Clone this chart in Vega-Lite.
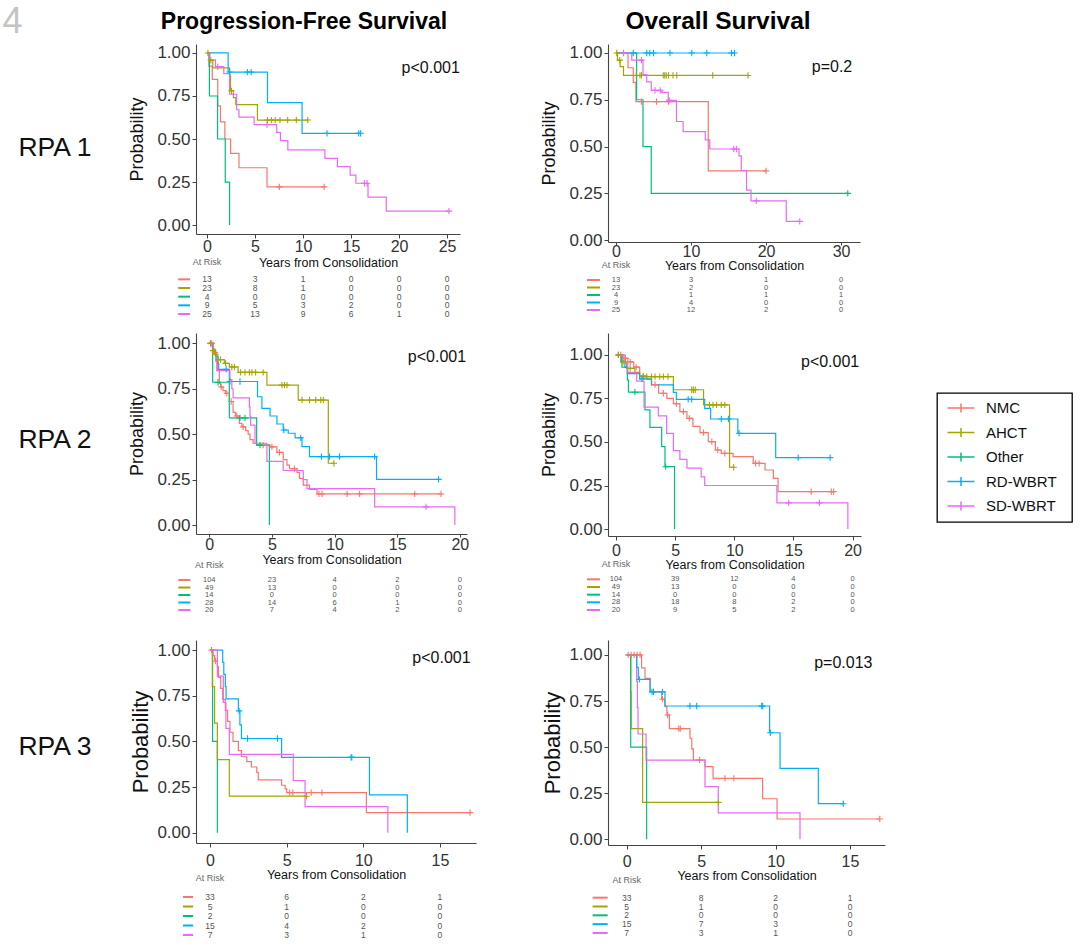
{
"$schema": "https://vega.github.io/schema/vega-lite/v6.json",
"background": "white",
"padding": 0,
"autosize": {"type": "pad"},
"bounds": "flush",
"align": "each",
"columns": 5,
"spacing": 0,
"datasets": {
"km": [
{"p":"PFS1","g":"NMC","t":0,"s":1},{"p":"PFS1","g":"NMC","t":0.2,"s":0.923},{"p":"PFS1","g":"NMC","t":0.55,"s":0.846},{"p":"PFS1","g":"NMC","t":1.12,"s":0.692},{"p":"PFS1","g":"NMC","t":1.4,"s":0.6},{"p":"PFS1","g":"NMC","t":1.86,"s":0.5},{"p":"PFS1","g":"NMC","t":2.46,"s":0.417},{"p":"PFS1","g":"NMC","t":3.33,"s":0.333},{"p":"PFS1","g":"NMC","t":6.25,"s":0.222},{"p":"PFS1","g":"NMC","t":7.53,"s":0.222,"c":1},{"p":"PFS1","g":"NMC","t":12.2,"s":0.222,"c":1},
{"p":"PFS1","g":"AHCT","t":0,"s":1},{"p":"PFS1","g":"AHCT","t":0.1,"s":1,"c":1},{"p":"PFS1","g":"AHCT","t":0.25,"s":0.957},{"p":"PFS1","g":"AHCT","t":0.4,"s":0.957,"c":1},{"p":"PFS1","g":"AHCT","t":0.6,"s":0.913},{"p":"PFS1","g":"AHCT","t":2.35,"s":0.87},{"p":"PFS1","g":"AHCT","t":2.45,"s":0.78},{"p":"PFS1","g":"AHCT","t":2.55,"s":0.78,"c":1},{"p":"PFS1","g":"AHCT","t":2.75,"s":0.74},{"p":"PFS1","g":"AHCT","t":3.0,"s":0.7},{"p":"PFS1","g":"AHCT","t":5.25,"s":0.61},{"p":"PFS1","g":"AHCT","t":6.3,"s":0.61,"c":1},{"p":"PFS1","g":"AHCT","t":6.7,"s":0.61,"c":1},{"p":"PFS1","g":"AHCT","t":7.1,"s":0.61,"c":1},{"p":"PFS1","g":"AHCT","t":7.6,"s":0.61,"c":1},{"p":"PFS1","g":"AHCT","t":8.4,"s":0.61,"c":1},{"p":"PFS1","g":"AHCT","t":9.3,"s":0.61,"c":1},{"p":"PFS1","g":"AHCT","t":10.5,"s":0.61,"c":1},
{"p":"PFS1","g":"Other","t":0,"s":1},{"p":"PFS1","g":"Other","t":0.25,"s":0.75},{"p":"PFS1","g":"Other","t":1.1,"s":0.5},{"p":"PFS1","g":"Other","t":1.9,"s":0.25},{"p":"PFS1","g":"Other","t":2.35,"s":0},
{"p":"PFS1","g":"RD-WBRT","t":0,"s":1},{"p":"PFS1","g":"RD-WBRT","t":2.2,"s":0.889},{"p":"PFS1","g":"RD-WBRT","t":2.35,"s":0.889,"c":1},{"p":"PFS1","g":"RD-WBRT","t":4.2,"s":0.889,"c":1},{"p":"PFS1","g":"RD-WBRT","t":4.6,"s":0.889,"c":1},{"p":"PFS1","g":"RD-WBRT","t":6.3,"s":0.711},{"p":"PFS1","g":"RD-WBRT","t":9.9,"s":0.533},{"p":"PFS1","g":"RD-WBRT","t":12.5,"s":0.533,"c":1},{"p":"PFS1","g":"RD-WBRT","t":15.8,"s":0.533,"c":1},{"p":"PFS1","g":"RD-WBRT","t":16.0,"s":0.533,"c":1},
{"p":"PFS1","g":"SD-WBRT","t":0,"s":1},{"p":"PFS1","g":"SD-WBRT","t":0.3,"s":0.96},{"p":"PFS1","g":"SD-WBRT","t":0.88,"s":0.92},{"p":"PFS1","g":"SD-WBRT","t":1.12,"s":0.92,"c":1},{"p":"PFS1","g":"SD-WBRT","t":1.75,"s":0.88},{"p":"PFS1","g":"SD-WBRT","t":2.35,"s":0.76},{"p":"PFS1","g":"SD-WBRT","t":3.09,"s":0.67},{"p":"PFS1","g":"SD-WBRT","t":3.33,"s":0.627},{"p":"PFS1","g":"SD-WBRT","t":4.91,"s":0.583},{"p":"PFS1","g":"SD-WBRT","t":6.25,"s":0.583,"c":1},{"p":"PFS1","g":"SD-WBRT","t":7.26,"s":0.538},{"p":"PFS1","g":"SD-WBRT","t":7.65,"s":0.49},{"p":"PFS1","g":"SD-WBRT","t":8.42,"s":0.437},{"p":"PFS1","g":"SD-WBRT","t":12.28,"s":0.388},{"p":"PFS1","g":"SD-WBRT","t":13.58,"s":0.34},{"p":"PFS1","g":"SD-WBRT","t":14.91,"s":0.29},{"p":"PFS1","g":"SD-WBRT","t":15.51,"s":0.243},{"p":"PFS1","g":"SD-WBRT","t":16.39,"s":0.243,"c":1},{"p":"PFS1","g":"SD-WBRT","t":16.67,"s":0.243,"c":1},{"p":"PFS1","g":"SD-WBRT","t":16.77,"s":0.162},{"p":"PFS1","g":"SD-WBRT","t":18.67,"s":0.081},{"p":"PFS1","g":"SD-WBRT","t":25.2,"s":0.081,"c":1},

{"p":"OS1","g":"NMC","t":0,"s":1},{"p":"OS1","g":"NMC","t":1.6,"s":0.921},{"p":"OS1","g":"NMC","t":2.3,"s":0.843},{"p":"OS1","g":"NMC","t":2.65,"s":0.74},{"p":"OS1","g":"NMC","t":3.4,"s":0.74,"c":1},{"p":"OS1","g":"NMC","t":5.4,"s":0.74,"c":1},{"p":"OS1","g":"NMC","t":7.0,"s":0.74,"c":1},{"p":"OS1","g":"NMC","t":12.3,"s":0.37},{"p":"OS1","g":"NMC","t":20.0,"s":0.37,"c":1},
{"p":"OS1","g":"AHCT","t":0,"s":1},{"p":"OS1","g":"AHCT","t":0.1,"s":1,"c":1},{"p":"OS1","g":"AHCT","t":0.2,"s":0.962},{"p":"OS1","g":"AHCT","t":0.5,"s":0.962,"c":1},{"p":"OS1","g":"AHCT","t":0.55,"s":0.927},{"p":"OS1","g":"AHCT","t":1.0,"s":0.88},{"p":"OS1","g":"AHCT","t":2.7,"s":0.88,"c":1},{"p":"OS1","g":"AHCT","t":3.2,"s":0.88,"c":1},{"p":"OS1","g":"AHCT","t":3.4,"s":0.88,"c":1},{"p":"OS1","g":"AHCT","t":6.3,"s":0.88,"c":1},{"p":"OS1","g":"AHCT","t":6.5,"s":0.88,"c":1},{"p":"OS1","g":"AHCT","t":6.7,"s":0.88,"c":1},{"p":"OS1","g":"AHCT","t":7.0,"s":0.88,"c":1},{"p":"OS1","g":"AHCT","t":7.6,"s":0.88,"c":1},{"p":"OS1","g":"AHCT","t":8.1,"s":0.88,"c":1},{"p":"OS1","g":"AHCT","t":12.9,"s":0.88,"c":1},{"p":"OS1","g":"AHCT","t":17.6,"s":0.88,"c":1},
{"p":"OS1","g":"Other","t":0,"s":1},{"p":"OS1","g":"Other","t":2.75,"s":0.75},{"p":"OS1","g":"Other","t":3.6,"s":0.5},{"p":"OS1","g":"Other","t":4.7,"s":0.25},{"p":"OS1","g":"Other","t":30.9,"s":0.25,"c":1},
{"p":"OS1","g":"RD-WBRT","t":0,"s":1},{"p":"OS1","g":"RD-WBRT","t":2.3,"s":1,"c":1},{"p":"OS1","g":"RD-WBRT","t":4.1,"s":1,"c":1},{"p":"OS1","g":"RD-WBRT","t":4.5,"s":1,"c":1},{"p":"OS1","g":"RD-WBRT","t":5.0,"s":1,"c":1},{"p":"OS1","g":"RD-WBRT","t":7.2,"s":1,"c":1},{"p":"OS1","g":"RD-WBRT","t":10.1,"s":1,"c":1},{"p":"OS1","g":"RD-WBRT","t":12.1,"s":1,"c":1},{"p":"OS1","g":"RD-WBRT","t":15.4,"s":1,"c":1},{"p":"OS1","g":"RD-WBRT","t":15.8,"s":1,"c":1},
{"p":"OS1","g":"SD-WBRT","t":0,"s":1},{"p":"OS1","g":"SD-WBRT","t":1.0,"s":1,"c":1},{"p":"OS1","g":"SD-WBRT","t":2.1,"s":0.962},{"p":"OS1","g":"SD-WBRT","t":3.4,"s":0.962,"c":1},{"p":"OS1","g":"SD-WBRT","t":3.6,"s":0.885},{"p":"OS1","g":"SD-WBRT","t":4.1,"s":0.846},{"p":"OS1","g":"SD-WBRT","t":4.7,"s":0.8},{"p":"OS1","g":"SD-WBRT","t":5.2,"s":0.8,"c":1},{"p":"OS1","g":"SD-WBRT","t":5.9,"s":0.8,"c":1},{"p":"OS1","g":"SD-WBRT","t":6.1,"s":0.79},{"p":"OS1","g":"SD-WBRT","t":6.96,"s":0.747},{"p":"OS1","g":"SD-WBRT","t":7.1,"s":0.747,"c":1},{"p":"OS1","g":"SD-WBRT","t":8.06,"s":0.634},{"p":"OS1","g":"SD-WBRT","t":8.95,"s":0.58},{"p":"OS1","g":"SD-WBRT","t":11.9,"s":0.536},{"p":"OS1","g":"SD-WBRT","t":12.5,"s":0.487},{"p":"OS1","g":"SD-WBRT","t":15.7,"s":0.487,"c":1},{"p":"OS1","g":"SD-WBRT","t":16.05,"s":0.487,"c":1},{"p":"OS1","g":"SD-WBRT","t":16.4,"s":0.45},{"p":"OS1","g":"SD-WBRT","t":16.7,"s":0.372},{"p":"OS1","g":"SD-WBRT","t":17.4,"s":0.267},{"p":"OS1","g":"SD-WBRT","t":18.0,"s":0.21},{"p":"OS1","g":"SD-WBRT","t":18.7,"s":0.21,"c":1},{"p":"OS1","g":"SD-WBRT","t":22.7,"s":0.1},{"p":"OS1","g":"SD-WBRT","t":24.5,"s":0.1,"c":1},

{"p":"PFS2","g":"NMC","t":0,"s":1},{"p":"PFS2","g":"NMC","t":0.1,"s":1,"c":1},{"p":"PFS2","g":"NMC","t":0.2,"s":1,"c":1},{"p":"PFS2","g":"NMC","t":0.3,"s":0.97},{"p":"PFS2","g":"NMC","t":0.4,"s":0.95},{"p":"PFS2","g":"NMC","t":0.45,"s":0.95,"c":1},{"p":"PFS2","g":"NMC","t":0.55,"s":0.9},{"p":"PFS2","g":"NMC","t":0.65,"s":0.85},{"p":"PFS2","g":"NMC","t":0.8,"s":0.78},{"p":"PFS2","g":"NMC","t":0.9,"s":0.76},{"p":"PFS2","g":"NMC","t":0.95,"s":0.76,"c":1},{"p":"PFS2","g":"NMC","t":1.1,"s":0.74},{"p":"PFS2","g":"NMC","t":1.3,"s":0.725},{"p":"PFS2","g":"NMC","t":1.4,"s":0.725,"c":1},{"p":"PFS2","g":"NMC","t":1.6,"s":0.68},{"p":"PFS2","g":"NMC","t":1.75,"s":0.68,"c":1},{"p":"PFS2","g":"NMC","t":1.9,"s":0.62},{"p":"PFS2","g":"NMC","t":2.1,"s":0.6},{"p":"PFS2","g":"NMC","t":2.2,"s":0.6,"c":1},{"p":"PFS2","g":"NMC","t":2.4,"s":0.56},{"p":"PFS2","g":"NMC","t":2.6,"s":0.54},{"p":"PFS2","g":"NMC","t":2.7,"s":0.54,"c":1},{"p":"PFS2","g":"NMC","t":2.9,"s":0.52},{"p":"PFS2","g":"NMC","t":3.1,"s":0.5},{"p":"PFS2","g":"NMC","t":3.25,"s":0.47},{"p":"PFS2","g":"NMC","t":3.5,"s":0.45},{"p":"PFS2","g":"NMC","t":3.8,"s":0.44},{"p":"PFS2","g":"NMC","t":4.3,"s":0.44,"c":1},{"p":"PFS2","g":"NMC","t":4.85,"s":0.43},{"p":"PFS2","g":"NMC","t":5.0,"s":0.43,"c":1},{"p":"PFS2","g":"NMC","t":5.4,"s":0.4},{"p":"PFS2","g":"NMC","t":5.6,"s":0.4,"c":1},{"p":"PFS2","g":"NMC","t":5.9,"s":0.36},{"p":"PFS2","g":"NMC","t":6.2,"s":0.33},{"p":"PFS2","g":"NMC","t":6.4,"s":0.31},{"p":"PFS2","g":"NMC","t":6.8,"s":0.31,"c":1},{"p":"PFS2","g":"NMC","t":7.0,"s":0.29},{"p":"PFS2","g":"NMC","t":7.2,"s":0.257},{"p":"PFS2","g":"NMC","t":7.5,"s":0.22},{"p":"PFS2","g":"NMC","t":8.0,"s":0.196},{"p":"PFS2","g":"NMC","t":8.6,"s":0.171},{"p":"PFS2","g":"NMC","t":8.75,"s":0.171,"c":1},{"p":"PFS2","g":"NMC","t":9.0,"s":0.171,"c":1},{"p":"PFS2","g":"NMC","t":11.0,"s":0.171,"c":1},{"p":"PFS2","g":"NMC","t":12.0,"s":0.171,"c":1},{"p":"PFS2","g":"NMC","t":16.4,"s":0.171,"c":1},{"p":"PFS2","g":"NMC","t":18.5,"s":0.171,"c":1},
{"p":"PFS2","g":"AHCT","t":0,"s":1},{"p":"PFS2","g":"AHCT","t":0.1,"s":1,"c":1},{"p":"PFS2","g":"AHCT","t":0.25,"s":0.96},{"p":"PFS2","g":"AHCT","t":0.3,"s":0.96,"c":1},{"p":"PFS2","g":"AHCT","t":0.4,"s":0.94},{"p":"PFS2","g":"AHCT","t":0.5,"s":0.94,"c":1},{"p":"PFS2","g":"AHCT","t":0.6,"s":0.91},{"p":"PFS2","g":"AHCT","t":0.7,"s":0.91,"c":1},{"p":"PFS2","g":"AHCT","t":0.9,"s":0.91,"c":1},{"p":"PFS2","g":"AHCT","t":1.2,"s":0.89},{"p":"PFS2","g":"AHCT","t":1.3,"s":0.89,"c":1},{"p":"PFS2","g":"AHCT","t":1.6,"s":0.87},{"p":"PFS2","g":"AHCT","t":1.8,"s":0.87,"c":1},{"p":"PFS2","g":"AHCT","t":2.0,"s":0.87,"c":1},{"p":"PFS2","g":"AHCT","t":2.3,"s":0.84},{"p":"PFS2","g":"AHCT","t":2.5,"s":0.84,"c":1},{"p":"PFS2","g":"AHCT","t":2.85,"s":0.84,"c":1},{"p":"PFS2","g":"AHCT","t":3.2,"s":0.84,"c":1},{"p":"PFS2","g":"AHCT","t":3.4,"s":0.84,"c":1},{"p":"PFS2","g":"AHCT","t":3.7,"s":0.84,"c":1},{"p":"PFS2","g":"AHCT","t":4.3,"s":0.84,"c":1},{"p":"PFS2","g":"AHCT","t":4.6,"s":0.77},{"p":"PFS2","g":"AHCT","t":5.8,"s":0.77,"c":1},{"p":"PFS2","g":"AHCT","t":6.0,"s":0.77,"c":1},{"p":"PFS2","g":"AHCT","t":6.2,"s":0.77,"c":1},{"p":"PFS2","g":"AHCT","t":7.1,"s":0.688},{"p":"PFS2","g":"AHCT","t":7.4,"s":0.688,"c":1},{"p":"PFS2","g":"AHCT","t":8.0,"s":0.688,"c":1},{"p":"PFS2","g":"AHCT","t":8.5,"s":0.688,"c":1},{"p":"PFS2","g":"AHCT","t":8.9,"s":0.688,"c":1},{"p":"PFS2","g":"AHCT","t":9.1,"s":0.688,"c":1},{"p":"PFS2","g":"AHCT","t":9.5,"s":0.34},{"p":"PFS2","g":"AHCT","t":9.95,"s":0.34,"c":1},
{"p":"PFS2","g":"Other","t":0,"s":1},{"p":"PFS2","g":"Other","t":0.27,"s":0.786},{"p":"PFS2","g":"Other","t":0.7,"s":0.786,"c":1},{"p":"PFS2","g":"Other","t":1.6,"s":0.59},{"p":"PFS2","g":"Other","t":2.45,"s":0.59,"c":1},{"p":"PFS2","g":"Other","t":2.85,"s":0.59,"c":1},{"p":"PFS2","g":"Other","t":3.78,"s":0.44},{"p":"PFS2","g":"Other","t":4.05,"s":0.44,"c":1},{"p":"PFS2","g":"Other","t":4.8,"s":0},
{"p":"PFS2","g":"RD-WBRT","t":0,"s":1},{"p":"PFS2","g":"RD-WBRT","t":0.3,"s":0.964},{"p":"PFS2","g":"RD-WBRT","t":0.5,"s":0.93},{"p":"PFS2","g":"RD-WBRT","t":0.7,"s":0.89},{"p":"PFS2","g":"RD-WBRT","t":0.75,"s":0.857},{"p":"PFS2","g":"RD-WBRT","t":1.35,"s":0.857,"c":1},{"p":"PFS2","g":"RD-WBRT","t":1.6,"s":0.79},{"p":"PFS2","g":"RD-WBRT","t":1.65,"s":0.79,"c":1},{"p":"PFS2","g":"RD-WBRT","t":2.45,"s":0.79,"c":1},{"p":"PFS2","g":"RD-WBRT","t":3.85,"s":0.706},{"p":"PFS2","g":"RD-WBRT","t":4.2,"s":0.642},{"p":"PFS2","g":"RD-WBRT","t":4.85,"s":0.6},{"p":"PFS2","g":"RD-WBRT","t":5.4,"s":0.556},{"p":"PFS2","g":"RD-WBRT","t":5.9,"s":0.523},{"p":"PFS2","g":"RD-WBRT","t":5.95,"s":0.523,"c":1},{"p":"PFS2","g":"RD-WBRT","t":6.3,"s":0.505},{"p":"PFS2","g":"RD-WBRT","t":6.85,"s":0.48},{"p":"PFS2","g":"RD-WBRT","t":7.3,"s":0.48,"c":1},{"p":"PFS2","g":"RD-WBRT","t":7.4,"s":0.431},{"p":"PFS2","g":"RD-WBRT","t":8.0,"s":0.376},{"p":"PFS2","g":"RD-WBRT","t":8.95,"s":0.376,"c":1},{"p":"PFS2","g":"RD-WBRT","t":9.6,"s":0.376,"c":1},{"p":"PFS2","g":"RD-WBRT","t":10.4,"s":0.376,"c":1},{"p":"PFS2","g":"RD-WBRT","t":13.2,"s":0.376,"c":1},{"p":"PFS2","g":"RD-WBRT","t":13.35,"s":0.251},{"p":"PFS2","g":"RD-WBRT","t":18.3,"s":0.251,"c":1},
{"p":"PFS2","g":"SD-WBRT","t":0,"s":1},{"p":"PFS2","g":"SD-WBRT","t":0.32,"s":0.95},{"p":"PFS2","g":"SD-WBRT","t":0.53,"s":0.9},{"p":"PFS2","g":"SD-WBRT","t":0.6,"s":0.85},{"p":"PFS2","g":"SD-WBRT","t":1.65,"s":0.8},{"p":"PFS2","g":"SD-WBRT","t":1.8,"s":0.75},{"p":"PFS2","g":"SD-WBRT","t":1.9,"s":0.7},{"p":"PFS2","g":"SD-WBRT","t":3.2,"s":0.65},{"p":"PFS2","g":"SD-WBRT","t":3.25,"s":0.6},{"p":"PFS2","g":"SD-WBRT","t":3.3,"s":0.55},{"p":"PFS2","g":"SD-WBRT","t":3.65,"s":0.45},{"p":"PFS2","g":"SD-WBRT","t":4.6,"s":0.35},{"p":"PFS2","g":"SD-WBRT","t":5.9,"s":0.3},{"p":"PFS2","g":"SD-WBRT","t":7.5,"s":0.25},{"p":"PFS2","g":"SD-WBRT","t":7.8,"s":0.2},{"p":"PFS2","g":"SD-WBRT","t":13.2,"s":0.1},{"p":"PFS2","g":"SD-WBRT","t":17.3,"s":0.1,"c":1},{"p":"PFS2","g":"SD-WBRT","t":19.6,"s":0},

{"p":"OS2","g":"NMC","t":0,"s":1},{"p":"OS2","g":"NMC","t":0.2,"s":1,"c":1},{"p":"OS2","g":"NMC","t":0.4,"s":1,"c":1},{"p":"OS2","g":"NMC","t":0.6,"s":0.98},{"p":"OS2","g":"NMC","t":0.8,"s":0.98,"c":1},{"p":"OS2","g":"NMC","t":1.0,"s":0.96},{"p":"OS2","g":"NMC","t":1.2,"s":0.96,"c":1},{"p":"OS2","g":"NMC","t":1.5,"s":0.93},{"p":"OS2","g":"NMC","t":1.7,"s":0.93,"c":1},{"p":"OS2","g":"NMC","t":2.0,"s":0.88},{"p":"OS2","g":"NMC","t":2.3,"s":0.88,"c":1},{"p":"OS2","g":"NMC","t":2.6,"s":0.86},{"p":"OS2","g":"NMC","t":3.0,"s":0.83},{"p":"OS2","g":"NMC","t":3.3,"s":0.83,"c":1},{"p":"OS2","g":"NMC","t":3.6,"s":0.78},{"p":"OS2","g":"NMC","t":4.0,"s":0.78,"c":1},{"p":"OS2","g":"NMC","t":4.3,"s":0.75},{"p":"OS2","g":"NMC","t":4.85,"s":0.72},{"p":"OS2","g":"NMC","t":5.1,"s":0.72,"c":1},{"p":"OS2","g":"NMC","t":5.4,"s":0.674},{"p":"OS2","g":"NMC","t":5.7,"s":0.674,"c":1},{"p":"OS2","g":"NMC","t":6.0,"s":0.636},{"p":"OS2","g":"NMC","t":6.2,"s":0.636,"c":1},{"p":"OS2","g":"NMC","t":6.5,"s":0.59},{"p":"OS2","g":"NMC","t":7.1,"s":0.554},{"p":"OS2","g":"NMC","t":7.4,"s":0.554,"c":1},{"p":"OS2","g":"NMC","t":7.8,"s":0.502},{"p":"OS2","g":"NMC","t":8.1,"s":0.502,"c":1},{"p":"OS2","g":"NMC","t":8.4,"s":0.454},{"p":"OS2","g":"NMC","t":8.6,"s":0.454,"c":1},{"p":"OS2","g":"NMC","t":8.9,"s":0.435},{"p":"OS2","g":"NMC","t":9.2,"s":0.435,"c":1},{"p":"OS2","g":"NMC","t":9.9,"s":0.416},{"p":"OS2","g":"NMC","t":11.6,"s":0.377},{"p":"OS2","g":"NMC","t":11.8,"s":0.377,"c":1},{"p":"OS2","g":"NMC","t":12.1,"s":0.377,"c":1},{"p":"OS2","g":"NMC","t":12.6,"s":0.339},{"p":"OS2","g":"NMC","t":13.3,"s":0.291},{"p":"OS2","g":"NMC","t":13.7,"s":0.215},{"p":"OS2","g":"NMC","t":16.5,"s":0.215,"c":1},{"p":"OS2","g":"NMC","t":18.2,"s":0.215,"c":1},{"p":"OS2","g":"NMC","t":18.4,"s":0.215,"c":1},
{"p":"OS2","g":"AHCT","t":0,"s":1},{"p":"OS2","g":"AHCT","t":0.2,"s":1,"c":1},{"p":"OS2","g":"AHCT","t":0.4,"s":0.96},{"p":"OS2","g":"AHCT","t":0.6,"s":0.96,"c":1},{"p":"OS2","g":"AHCT","t":0.9,"s":0.923},{"p":"OS2","g":"AHCT","t":1.2,"s":0.923,"c":1},{"p":"OS2","g":"AHCT","t":1.6,"s":0.9},{"p":"OS2","g":"AHCT","t":2.0,"s":0.875},{"p":"OS2","g":"AHCT","t":2.3,"s":0.875,"c":1},{"p":"OS2","g":"AHCT","t":2.6,"s":0.875,"c":1},{"p":"OS2","g":"AHCT","t":3.0,"s":0.875,"c":1},{"p":"OS2","g":"AHCT","t":3.3,"s":0.875,"c":1},{"p":"OS2","g":"AHCT","t":3.7,"s":0.875,"c":1},{"p":"OS2","g":"AHCT","t":4.0,"s":0.875,"c":1},{"p":"OS2","g":"AHCT","t":4.4,"s":0.875,"c":1},{"p":"OS2","g":"AHCT","t":4.85,"s":0.8},{"p":"OS2","g":"AHCT","t":6.4,"s":0.8,"c":1},{"p":"OS2","g":"AHCT","t":6.55,"s":0.8,"c":1},{"p":"OS2","g":"AHCT","t":6.7,"s":0.8,"c":1},{"p":"OS2","g":"AHCT","t":7.4,"s":0.713},{"p":"OS2","g":"AHCT","t":7.9,"s":0.713,"c":1},{"p":"OS2","g":"AHCT","t":8.2,"s":0.713,"c":1},{"p":"OS2","g":"AHCT","t":8.5,"s":0.713,"c":1},{"p":"OS2","g":"AHCT","t":8.9,"s":0.713,"c":1},{"p":"OS2","g":"AHCT","t":9.2,"s":0.713,"c":1},{"p":"OS2","g":"AHCT","t":9.6,"s":0.355},{"p":"OS2","g":"AHCT","t":9.95,"s":0.355,"c":1},
{"p":"OS2","g":"Other","t":0,"s":1},{"p":"OS2","g":"Other","t":0.5,"s":0.93},{"p":"OS2","g":"Other","t":0.96,"s":0.857},{"p":"OS2","g":"Other","t":1.05,"s":0.786},{"p":"OS2","g":"Other","t":1.6,"s":0.786,"c":1},{"p":"OS2","g":"Other","t":2.45,"s":0.684},{"p":"OS2","g":"Other","t":2.87,"s":0.584},{"p":"OS2","g":"Other","t":3.86,"s":0.473},{"p":"OS2","g":"Other","t":4.14,"s":0.358},{"p":"OS2","g":"Other","t":4.2,"s":0.358,"c":1},{"p":"OS2","g":"Other","t":4.95,"s":0},
{"p":"OS2","g":"RD-WBRT","t":0,"s":1},{"p":"OS2","g":"RD-WBRT","t":0.5,"s":0.964},{"p":"OS2","g":"RD-WBRT","t":0.75,"s":0.929},{"p":"OS2","g":"RD-WBRT","t":0.95,"s":0.893},{"p":"OS2","g":"RD-WBRT","t":2.0,"s":0.862},{"p":"OS2","g":"RD-WBRT","t":2.2,"s":0.862,"c":1},{"p":"OS2","g":"RD-WBRT","t":3.0,"s":0.828},{"p":"OS2","g":"RD-WBRT","t":4.85,"s":0.785},{"p":"OS2","g":"RD-WBRT","t":5.1,"s":0.745},{"p":"OS2","g":"RD-WBRT","t":6.1,"s":0.745,"c":1},{"p":"OS2","g":"RD-WBRT","t":6.4,"s":0.745,"c":1},{"p":"OS2","g":"RD-WBRT","t":7.5,"s":0.693},{"p":"OS2","g":"RD-WBRT","t":8.0,"s":0.632},{"p":"OS2","g":"RD-WBRT","t":8.9,"s":0.632,"c":1},{"p":"OS2","g":"RD-WBRT","t":9.5,"s":0.632,"c":1},{"p":"OS2","g":"RD-WBRT","t":10.3,"s":0.55},{"p":"OS2","g":"RD-WBRT","t":10.4,"s":0.55,"c":1},{"p":"OS2","g":"RD-WBRT","t":13.5,"s":0.41},{"p":"OS2","g":"RD-WBRT","t":15.4,"s":0.41,"c":1},{"p":"OS2","g":"RD-WBRT","t":18.1,"s":0.41,"c":1},
{"p":"OS2","g":"SD-WBRT","t":0,"s":1},{"p":"OS2","g":"SD-WBRT","t":0.75,"s":0.95},{"p":"OS2","g":"SD-WBRT","t":1.0,"s":0.9},{"p":"OS2","g":"SD-WBRT","t":1.75,"s":0.85},{"p":"OS2","g":"SD-WBRT","t":2.37,"s":0.7},{"p":"OS2","g":"SD-WBRT","t":3.58,"s":0.65},{"p":"OS2","g":"SD-WBRT","t":4.28,"s":0.55},{"p":"OS2","g":"SD-WBRT","t":4.85,"s":0.45},{"p":"OS2","g":"SD-WBRT","t":5.4,"s":0.4},{"p":"OS2","g":"SD-WBRT","t":6.0,"s":0.35},{"p":"OS2","g":"SD-WBRT","t":7.2,"s":0.3},{"p":"OS2","g":"SD-WBRT","t":7.5,"s":0.25},{"p":"OS2","g":"SD-WBRT","t":13.6,"s":0.15},{"p":"OS2","g":"SD-WBRT","t":14.6,"s":0.15,"c":1},{"p":"OS2","g":"SD-WBRT","t":17.2,"s":0.15,"c":1},{"p":"OS2","g":"SD-WBRT","t":19.6,"s":0},

{"p":"PFS3","g":"Other","t":0,"s":1},{"p":"PFS3","g":"Other","t":0.17,"s":0.5},{"p":"PFS3","g":"Other","t":0.48,"s":0},
{"p":"PFS3","g":"AHCT","t":0,"s":1},{"p":"PFS3","g":"AHCT","t":0.15,"s":0.8},{"p":"PFS3","g":"AHCT","t":0.3,"s":0.6},{"p":"PFS3","g":"AHCT","t":0.48,"s":0.4},{"p":"PFS3","g":"AHCT","t":1.26,"s":0.2},{"p":"PFS3","g":"AHCT","t":6.3,"s":0.2,"c":1},
{"p":"PFS3","g":"NMC","t":0,"s":1},{"p":"PFS3","g":"NMC","t":0.1,"s":1,"c":1},{"p":"PFS3","g":"NMC","t":0.2,"s":0.97},{"p":"PFS3","g":"NMC","t":0.3,"s":0.94},{"p":"PFS3","g":"NMC","t":0.35,"s":0.94,"c":1},{"p":"PFS3","g":"NMC","t":0.48,"s":0.91},{"p":"PFS3","g":"NMC","t":0.55,"s":0.85},{"p":"PFS3","g":"NMC","t":0.7,"s":0.79},{"p":"PFS3","g":"NMC","t":0.83,"s":0.73},{"p":"PFS3","g":"NMC","t":1.0,"s":0.67},{"p":"PFS3","g":"NMC","t":1.15,"s":0.61},{"p":"PFS3","g":"NMC","t":1.3,"s":0.55},{"p":"PFS3","g":"NMC","t":1.5,"s":0.5},{"p":"PFS3","g":"NMC","t":1.85,"s":0.45},{"p":"PFS3","g":"NMC","t":2.05,"s":0.416},{"p":"PFS3","g":"NMC","t":2.4,"s":0.389},{"p":"PFS3","g":"NMC","t":2.7,"s":0.36},{"p":"PFS3","g":"NMC","t":3.05,"s":0.33},{"p":"PFS3","g":"NMC","t":3.15,"s":0.29},{"p":"PFS3","g":"NMC","t":4.67,"s":0.26},{"p":"PFS3","g":"NMC","t":4.9,"s":0.24},{"p":"PFS3","g":"NMC","t":5.0,"s":0.22},{"p":"PFS3","g":"NMC","t":5.2,"s":0.22,"c":1},{"p":"PFS3","g":"NMC","t":5.4,"s":0.22,"c":1},{"p":"PFS3","g":"NMC","t":6.6,"s":0.22,"c":1},{"p":"PFS3","g":"NMC","t":7.3,"s":0.22,"c":1},{"p":"PFS3","g":"NMC","t":10.2,"s":0.11},{"p":"PFS3","g":"NMC","t":16.96,"s":0.11,"c":1},
{"p":"PFS3","g":"RD-WBRT","t":0,"s":1},{"p":"PFS3","g":"RD-WBRT","t":0.83,"s":0.933},{"p":"PFS3","g":"RD-WBRT","t":0.9,"s":0.867},{"p":"PFS3","g":"RD-WBRT","t":1.0,"s":0.8},{"p":"PFS3","g":"RD-WBRT","t":1.05,"s":0.733},{"p":"PFS3","g":"RD-WBRT","t":1.85,"s":0.667},{"p":"PFS3","g":"RD-WBRT","t":1.9,"s":0.667,"c":1},{"p":"PFS3","g":"RD-WBRT","t":1.95,"s":0.59},{"p":"PFS3","g":"RD-WBRT","t":2.05,"s":0.516},{"p":"PFS3","g":"RD-WBRT","t":2.45,"s":0.516,"c":1},{"p":"PFS3","g":"RD-WBRT","t":4.4,"s":0.516,"c":1},{"p":"PFS3","g":"RD-WBRT","t":4.67,"s":0.413},{"p":"PFS3","g":"RD-WBRT","t":9.2,"s":0.413,"c":1},{"p":"PFS3","g":"RD-WBRT","t":9.25,"s":0.413,"c":1},{"p":"PFS3","g":"RD-WBRT","t":10.4,"s":0.207},{"p":"PFS3","g":"RD-WBRT","t":12.87,"s":0},
{"p":"PFS3","g":"SD-WBRT","t":0,"s":1},{"p":"PFS3","g":"SD-WBRT","t":0.48,"s":0.857},{"p":"PFS3","g":"SD-WBRT","t":0.87,"s":0.714},{"p":"PFS3","g":"SD-WBRT","t":1.04,"s":0.571},{"p":"PFS3","g":"SD-WBRT","t":1.26,"s":0.429},{"p":"PFS3","g":"SD-WBRT","t":5.43,"s":0.286},{"p":"PFS3","g":"SD-WBRT","t":6.2,"s":0.143},{"p":"PFS3","g":"SD-WBRT","t":11.6,"s":0},

{"p":"OS3","g":"NMC","t":0,"s":1},{"p":"OS3","g":"NMC","t":0.1,"s":1,"c":1},{"p":"OS3","g":"NMC","t":0.3,"s":1,"c":1},{"p":"OS3","g":"NMC","t":0.5,"s":1,"c":1},{"p":"OS3","g":"NMC","t":0.7,"s":1,"c":1},{"p":"OS3","g":"NMC","t":0.9,"s":1,"c":1},{"p":"OS3","g":"NMC","t":1.0,"s":0.93},{"p":"OS3","g":"NMC","t":1.23,"s":0.873},{"p":"OS3","g":"NMC","t":1.57,"s":0.8},{"p":"OS3","g":"NMC","t":1.8,"s":0.8,"c":1},{"p":"OS3","g":"NMC","t":2.35,"s":0.76},{"p":"OS3","g":"NMC","t":2.4,"s":0.76,"c":1},{"p":"OS3","g":"NMC","t":2.57,"s":0.72},{"p":"OS3","g":"NMC","t":2.7,"s":0.674},{"p":"OS3","g":"NMC","t":2.75,"s":0.674,"c":1},{"p":"OS3","g":"NMC","t":2.87,"s":0.6},{"p":"OS3","g":"NMC","t":3.5,"s":0.6,"c":1},{"p":"OS3","g":"NMC","t":3.6,"s":0.6,"c":1},{"p":"OS3","g":"NMC","t":4.25,"s":0.548},{"p":"OS3","g":"NMC","t":4.37,"s":0.49},{"p":"OS3","g":"NMC","t":4.48,"s":0.43},{"p":"OS3","g":"NMC","t":4.9,"s":0.43,"c":1},{"p":"OS3","g":"NMC","t":5.26,"s":0.394},{"p":"OS3","g":"NMC","t":5.8,"s":0.33},{"p":"OS3","g":"NMC","t":6.6,"s":0.33,"c":1},{"p":"OS3","g":"NMC","t":7.2,"s":0.33,"c":1},{"p":"OS3","g":"NMC","t":9.13,"s":0.22},{"p":"OS3","g":"NMC","t":10.1,"s":0.11},{"p":"OS3","g":"NMC","t":17.0,"s":0.11,"c":1},
{"p":"OS3","g":"AHCT","t":0,"s":1},{"p":"OS3","g":"AHCT","t":0.27,"s":0.8},{"p":"OS3","g":"AHCT","t":0.3,"s":0.6},{"p":"OS3","g":"AHCT","t":1.07,"s":0.2},{"p":"OS3","g":"AHCT","t":6.16,"s":0.2,"c":1},
{"p":"OS3","g":"Other","t":0,"s":1},{"p":"OS3","g":"Other","t":0.27,"s":0.5},{"p":"OS3","g":"Other","t":1.34,"s":0},
{"p":"OS3","g":"SD-WBRT","t":0,"s":1},{"p":"OS3","g":"SD-WBRT","t":0.67,"s":0.857},{"p":"OS3","g":"SD-WBRT","t":0.72,"s":0.714},{"p":"OS3","g":"SD-WBRT","t":0.76,"s":0.571},{"p":"OS3","g":"SD-WBRT","t":1.3,"s":0.429},{"p":"OS3","g":"SD-WBRT","t":5.26,"s":0.286},{"p":"OS3","g":"SD-WBRT","t":6.15,"s":0.143},{"p":"OS3","g":"SD-WBRT","t":11.64,"s":0},
{"p":"OS3","g":"RD-WBRT","t":0,"s":1},{"p":"OS3","g":"RD-WBRT","t":0.67,"s":0.933},{"p":"OS3","g":"RD-WBRT","t":0.78,"s":0.867},{"p":"OS3","g":"RD-WBRT","t":0.85,"s":0.867,"c":1},{"p":"OS3","g":"RD-WBRT","t":1.57,"s":0.8},{"p":"OS3","g":"RD-WBRT","t":1.7,"s":0.8,"c":1},{"p":"OS3","g":"RD-WBRT","t":1.8,"s":0.8,"c":1},{"p":"OS3","g":"RD-WBRT","t":2.4,"s":0.8,"c":1},{"p":"OS3","g":"RD-WBRT","t":2.57,"s":0.723},{"p":"OS3","g":"RD-WBRT","t":4.25,"s":0.723,"c":1},{"p":"OS3","g":"RD-WBRT","t":4.7,"s":0.723,"c":1},{"p":"OS3","g":"RD-WBRT","t":9.07,"s":0.723,"c":1},{"p":"OS3","g":"RD-WBRT","t":9.13,"s":0.723,"c":1},{"p":"OS3","g":"RD-WBRT","t":9.6,"s":0.578},{"p":"OS3","g":"RD-WBRT","t":9.65,"s":0.578,"c":1},{"p":"OS3","g":"RD-WBRT","t":10.3,"s":0.385},{"p":"OS3","g":"RD-WBRT","t":12.87,"s":0.193},{"p":"OS3","g":"RD-WBRT","t":14.55,"s":0.193,"c":1}
],
"risk": [
{"p":"PFS1","g":"NMC","t":0,"n":13},{"p":"PFS1","g":"NMC","t":5,"n":3},{"p":"PFS1","g":"NMC","t":10,"n":1},{"p":"PFS1","g":"NMC","t":15,"n":0},{"p":"PFS1","g":"NMC","t":20,"n":0},{"p":"PFS1","g":"NMC","t":25,"n":0},
{"p":"PFS1","g":"AHCT","t":0,"n":23},{"p":"PFS1","g":"AHCT","t":5,"n":8},{"p":"PFS1","g":"AHCT","t":10,"n":1},{"p":"PFS1","g":"AHCT","t":15,"n":0},{"p":"PFS1","g":"AHCT","t":20,"n":0},{"p":"PFS1","g":"AHCT","t":25,"n":0},
{"p":"PFS1","g":"Other","t":0,"n":4},{"p":"PFS1","g":"Other","t":5,"n":0},{"p":"PFS1","g":"Other","t":10,"n":0},{"p":"PFS1","g":"Other","t":15,"n":0},{"p":"PFS1","g":"Other","t":20,"n":0},{"p":"PFS1","g":"Other","t":25,"n":0},
{"p":"PFS1","g":"RD-WBRT","t":0,"n":9},{"p":"PFS1","g":"RD-WBRT","t":5,"n":5},{"p":"PFS1","g":"RD-WBRT","t":10,"n":3},{"p":"PFS1","g":"RD-WBRT","t":15,"n":2},{"p":"PFS1","g":"RD-WBRT","t":20,"n":0},{"p":"PFS1","g":"RD-WBRT","t":25,"n":0},
{"p":"PFS1","g":"SD-WBRT","t":0,"n":25},{"p":"PFS1","g":"SD-WBRT","t":5,"n":13},{"p":"PFS1","g":"SD-WBRT","t":10,"n":9},{"p":"PFS1","g":"SD-WBRT","t":15,"n":6},{"p":"PFS1","g":"SD-WBRT","t":20,"n":1},{"p":"PFS1","g":"SD-WBRT","t":25,"n":0},
{"p":"OS1","g":"NMC","t":0,"n":13},{"p":"OS1","g":"NMC","t":10,"n":3},{"p":"OS1","g":"NMC","t":20,"n":1},{"p":"OS1","g":"NMC","t":30,"n":0},
{"p":"OS1","g":"AHCT","t":0,"n":23},{"p":"OS1","g":"AHCT","t":10,"n":2},{"p":"OS1","g":"AHCT","t":20,"n":0},{"p":"OS1","g":"AHCT","t":30,"n":0},
{"p":"OS1","g":"Other","t":0,"n":4},{"p":"OS1","g":"Other","t":10,"n":1},{"p":"OS1","g":"Other","t":20,"n":1},{"p":"OS1","g":"Other","t":30,"n":1},
{"p":"OS1","g":"RD-WBRT","t":0,"n":9},{"p":"OS1","g":"RD-WBRT","t":10,"n":4},{"p":"OS1","g":"RD-WBRT","t":20,"n":0},{"p":"OS1","g":"RD-WBRT","t":30,"n":0},
{"p":"OS1","g":"SD-WBRT","t":0,"n":25},{"p":"OS1","g":"SD-WBRT","t":10,"n":12},{"p":"OS1","g":"SD-WBRT","t":20,"n":2},{"p":"OS1","g":"SD-WBRT","t":30,"n":0},
{"p":"PFS2","g":"NMC","t":0,"n":104},{"p":"PFS2","g":"NMC","t":5,"n":23},{"p":"PFS2","g":"NMC","t":10,"n":4},{"p":"PFS2","g":"NMC","t":15,"n":2},{"p":"PFS2","g":"NMC","t":20,"n":0},
{"p":"PFS2","g":"AHCT","t":0,"n":49},{"p":"PFS2","g":"AHCT","t":5,"n":13},{"p":"PFS2","g":"AHCT","t":10,"n":0},{"p":"PFS2","g":"AHCT","t":15,"n":0},{"p":"PFS2","g":"AHCT","t":20,"n":0},
{"p":"PFS2","g":"Other","t":0,"n":14},{"p":"PFS2","g":"Other","t":5,"n":0},{"p":"PFS2","g":"Other","t":10,"n":0},{"p":"PFS2","g":"Other","t":15,"n":0},{"p":"PFS2","g":"Other","t":20,"n":0},
{"p":"PFS2","g":"RD-WBRT","t":0,"n":28},{"p":"PFS2","g":"RD-WBRT","t":5,"n":14},{"p":"PFS2","g":"RD-WBRT","t":10,"n":6},{"p":"PFS2","g":"RD-WBRT","t":15,"n":1},{"p":"PFS2","g":"RD-WBRT","t":20,"n":0},
{"p":"PFS2","g":"SD-WBRT","t":0,"n":20},{"p":"PFS2","g":"SD-WBRT","t":5,"n":7},{"p":"PFS2","g":"SD-WBRT","t":10,"n":4},{"p":"PFS2","g":"SD-WBRT","t":15,"n":2},{"p":"PFS2","g":"SD-WBRT","t":20,"n":0},
{"p":"OS2","g":"NMC","t":0,"n":104},{"p":"OS2","g":"NMC","t":5,"n":39},{"p":"OS2","g":"NMC","t":10,"n":12},{"p":"OS2","g":"NMC","t":15,"n":4},{"p":"OS2","g":"NMC","t":20,"n":0},
{"p":"OS2","g":"AHCT","t":0,"n":49},{"p":"OS2","g":"AHCT","t":5,"n":13},{"p":"OS2","g":"AHCT","t":10,"n":0},{"p":"OS2","g":"AHCT","t":15,"n":0},{"p":"OS2","g":"AHCT","t":20,"n":0},
{"p":"OS2","g":"Other","t":0,"n":14},{"p":"OS2","g":"Other","t":5,"n":0},{"p":"OS2","g":"Other","t":10,"n":0},{"p":"OS2","g":"Other","t":15,"n":0},{"p":"OS2","g":"Other","t":20,"n":0},
{"p":"OS2","g":"RD-WBRT","t":0,"n":28},{"p":"OS2","g":"RD-WBRT","t":5,"n":18},{"p":"OS2","g":"RD-WBRT","t":10,"n":8},{"p":"OS2","g":"RD-WBRT","t":15,"n":2},{"p":"OS2","g":"RD-WBRT","t":20,"n":0},
{"p":"OS2","g":"SD-WBRT","t":0,"n":20},{"p":"OS2","g":"SD-WBRT","t":5,"n":9},{"p":"OS2","g":"SD-WBRT","t":10,"n":5},{"p":"OS2","g":"SD-WBRT","t":15,"n":2},{"p":"OS2","g":"SD-WBRT","t":20,"n":0},
{"p":"PFS3","g":"NMC","t":0,"n":33},{"p":"PFS3","g":"NMC","t":5,"n":6},{"p":"PFS3","g":"NMC","t":10,"n":2},{"p":"PFS3","g":"NMC","t":15,"n":1},
{"p":"PFS3","g":"AHCT","t":0,"n":5},{"p":"PFS3","g":"AHCT","t":5,"n":1},{"p":"PFS3","g":"AHCT","t":10,"n":0},{"p":"PFS3","g":"AHCT","t":15,"n":0},
{"p":"PFS3","g":"Other","t":0,"n":2},{"p":"PFS3","g":"Other","t":5,"n":0},{"p":"PFS3","g":"Other","t":10,"n":0},{"p":"PFS3","g":"Other","t":15,"n":0},
{"p":"PFS3","g":"RD-WBRT","t":0,"n":15},{"p":"PFS3","g":"RD-WBRT","t":5,"n":4},{"p":"PFS3","g":"RD-WBRT","t":10,"n":2},{"p":"PFS3","g":"RD-WBRT","t":15,"n":0},
{"p":"PFS3","g":"SD-WBRT","t":0,"n":7},{"p":"PFS3","g":"SD-WBRT","t":5,"n":3},{"p":"PFS3","g":"SD-WBRT","t":10,"n":1},{"p":"PFS3","g":"SD-WBRT","t":15,"n":0},
{"p":"OS3","g":"NMC","t":0,"n":33},{"p":"OS3","g":"NMC","t":5,"n":8},{"p":"OS3","g":"NMC","t":10,"n":2},{"p":"OS3","g":"NMC","t":15,"n":1},
{"p":"OS3","g":"AHCT","t":0,"n":5},{"p":"OS3","g":"AHCT","t":5,"n":1},{"p":"OS3","g":"AHCT","t":10,"n":0},{"p":"OS3","g":"AHCT","t":15,"n":0},
{"p":"OS3","g":"Other","t":0,"n":2},{"p":"OS3","g":"Other","t":5,"n":0},{"p":"OS3","g":"Other","t":10,"n":0},{"p":"OS3","g":"Other","t":15,"n":0},
{"p":"OS3","g":"RD-WBRT","t":0,"n":15},{"p":"OS3","g":"RD-WBRT","t":5,"n":7},{"p":"OS3","g":"RD-WBRT","t":10,"n":3},{"p":"OS3","g":"RD-WBRT","t":15,"n":0},
{"p":"OS3","g":"SD-WBRT","t":0,"n":7},{"p":"OS3","g":"SD-WBRT","t":5,"n":3},{"p":"OS3","g":"SD-WBRT","t":10,"n":1},{"p":"OS3","g":"SD-WBRT","t":15,"n":0}
]
},
"concat": [
 {"width": 25, "height": 44, "data": {"values": [{"label": "4"}]}, "mark": {"type": "text", "fontSize": 36, "color": "#c4c4c4"}, "encoding": {"text": {"field": "label"}}},
 {"width": 86, "height": 1, "data": {"values": []}, "mark": "point"},
 {"width": 216, "height": 44, "data": {"values": [{"label": "Progression-Free Survival"}]}, "mark": {"type": "text", "fontSize": 23, "fontWeight": "bold", "color": "#000"}, "encoding": {"text": {"field": "label"}}},
 {"width": 132, "height": 1, "data": {"values": []}, "mark": "point"},
 {"width": 220, "height": 44, "data": {"values": [{"label": "Overall Survival"}]}, "mark": {"type": "text", "fontSize": 24.5, "fontWeight": "bold", "color": "#000"}, "encoding": {"text": {"field": "label"}}},

 {"width": 110, "height": 208, "data": {"values": [{"label": "RPA 1"}]}, "mark": {"type": "text", "fontSize": 26.5, "color": "#111"}, "encoding": {"text": {"field": "label"}}},
 {"width": 86, "height": 1, "data": {"values": []}, "mark": "point"},
 {"width": 264, "height": 190, "layer": [
  {"data": {"name": "km"}, "transform": [{"filter": "datum.p == 'PFS1'"}], "mark": {"type": "line", "interpolate": "step-after", "strokeWidth": 1.2},
   "encoding": {"x": {"field": "t", "type": "quantitative", "scale": {"domain": [-1.146, 26.35], "nice": false, "zero": false}, "axis": {"values": [0,5,10,15,20,25], "title": "Years from Consolidation", "labelPadding": 0, "titlePadding": 2}},
    "y": {"field": "s", "type": "quantitative", "scale": {"domain": [-0.052, 1.052], "nice": false, "zero": false}, "axis": {"values": [0,0.25,0.5,0.75,1], "format": ".2f", "title": "Probability"}},
    "color": {"field": "g", "type": "nominal", "scale": {"domain": ["NMC","AHCT","Other","RD-WBRT","SD-WBRT"], "range": ["#F8766D","#A3A500","#00BF7D","#00B0F6","#E76BF3"]}, "title": "\u00a0", "legend": {"symbolType": "M-0.9,0H4.5M1.8,-0.9V0.9"}}}},
  {"data": {"name": "km"}, "transform": [{"filter": "datum.p == 'PFS1' && datum.c == 1"}], "mark": {"type": "point", "shape": "M-1,0H1M0,-1V1", "filled": false, "size": 40, "strokeWidth": 1.1, "opacity": 1},
   "encoding": {"x": {"field": "t", "type": "quantitative", "scale": {"domain": [-1.146, 26.35], "nice": false, "zero": false}},
    "y": {"field": "s", "type": "quantitative", "scale": {"domain": [-0.052, 1.052], "nice": false, "zero": false}},
    "color": {"field": "g", "type": "nominal", "scale": {"domain": ["NMC","AHCT","Other","RD-WBRT","SD-WBRT"], "range": ["#F8766D","#A3A500","#00BF7D","#00B0F6","#E76BF3"]}, "title": "\u00a0", "legend": {"symbolType": "M-0.9,0H4.5M1.8,-0.9V0.9"}}}},
  {"data": {"values": [{"label": "p<0.001"}]}, "mark": {"type": "text", "fontSize": 16, "color": "#111"},
   "encoding": {"x": {"datum": 23.3, "type": "quantitative"}, "y": {"datum": 0.913, "type": "quantitative"}, "text": {"field": "label"}}}
 ]},
 {"width": 132, "height": 1, "data": {"values": []}, "mark": "point"},
 {"width": 252, "height": 198, "layer": [
  {"data": {"name": "km"}, "transform": [{"filter": "datum.p == 'OS1'"}], "mark": {"type": "line", "interpolate": "step-after", "strokeWidth": 1.2},
   "encoding": {"x": {"field": "t", "type": "quantitative", "scale": {"domain": [-1.067, 32.53], "nice": false, "zero": false}, "axis": {"values": [0,10,20,30], "title": "Years from Consolidation", "tickSize": 3, "labelPadding": -2, "titlePadding": 0}},
    "y": {"field": "s", "type": "quantitative", "scale": {"domain": [-0.01, 1.048], "nice": false, "zero": false}, "axis": {"values": [0,0.25,0.5,0.75,1], "format": ".2f", "title": "Probability"}},
    "color": {"field": "g", "type": "nominal", "scale": {"domain": ["NMC","AHCT","Other","RD-WBRT","SD-WBRT"], "range": ["#F8766D","#A3A500","#00BF7D","#00B0F6","#E76BF3"]}, "title": "\u00a0", "legend": {"symbolType": "M-0.9,0H4.5M1.8,-0.9V0.9"}}}},
  {"data": {"name": "km"}, "transform": [{"filter": "datum.p == 'OS1' && datum.c == 1"}], "mark": {"type": "point", "shape": "M-1,0H1M0,-1V1", "filled": false, "size": 40, "strokeWidth": 1.1, "opacity": 1},
   "encoding": {"x": {"field": "t", "type": "quantitative", "scale": {"domain": [-1.067, 32.53], "nice": false, "zero": false}},
    "y": {"field": "s", "type": "quantitative", "scale": {"domain": [-0.01, 1.048], "nice": false, "zero": false}},
    "color": {"field": "g", "type": "nominal", "scale": {"domain": ["NMC","AHCT","Other","RD-WBRT","SD-WBRT"], "range": ["#F8766D","#A3A500","#00BF7D","#00B0F6","#E76BF3"]}, "title": "\u00a0", "legend": {"symbolType": "M-0.9,0H4.5M1.8,-0.9V0.9"}}}},
  {"data": {"values": [{"label": "p=0.2"}]}, "mark": {"type": "text", "fontSize": 16, "color": "#111"},
   "encoding": {"x": {"datum": 28.8, "type": "quantitative"}, "y": {"datum": 0.924, "type": "quantitative"}, "text": {"field": "label"}}}
 ]},

 {"width": 110, "height": 1, "data": {"values": []}, "mark": "point"},
 {"width": 86, "height": 1, "data": {"values": []}, "mark": "point"},
 {"width": 264, "height": 81, "layer": [
  {"data": {"name": "risk"}, "transform": [{"filter": "datum.p == 'PFS1' && datum.t == 0"}], "mark": {"type": "rule", "strokeWidth": 2},
   "encoding": {"x": {"datum": -3.0, "type": "quantitative", "scale": {"domain": [-1.146, 26.35], "nice": false, "zero": false}, "axis": null}, "x2": {"datum": -1.77},
    "y": {"field": "g", "type": "nominal", "scale": {"type": "point", "domain": ["At Risk","gap","NMC","AHCT","Other","RD-WBRT","SD-WBRT"], "range": [10, 62], "padding": 0}, "axis": null},
    "color": {"field": "g", "type": "nominal", "scale": {"domain": ["NMC","AHCT","Other","RD-WBRT","SD-WBRT"], "range": ["#F8766D","#A3A500","#00BF7D","#00B0F6","#E76BF3"]}, "title": "\u00a0", "legend": {"symbolType": "M-0.9,0H4.5M1.8,-0.9V0.9"}}}},
  {"data": {"name": "risk"}, "transform": [{"filter": "datum.p == 'PFS1'"}], "mark": {"type": "text", "fontSize": 8.5, "color": "#555"},
   "encoding": {"x": {"field": "t", "type": "quantitative", "scale": {"domain": [-1.146, 26.35], "nice": false, "zero": false}, "axis": null},
    "y": {"field": "g", "type": "nominal", "scale": {"type": "point", "domain": ["At Risk","gap","NMC","AHCT","Other","RD-WBRT","SD-WBRT"], "range": [10, 62], "padding": 0}, "axis": null},
    "text": {"field": "n"}}},
  {"data": {"values": [{"label": "At Risk"}]}, "mark": {"type": "text", "fontSize": 9, "color": "#666"},
   "encoding": {"x": {"datum": 0, "type": "quantitative"}, "y": {"datum": "At Risk", "type": "nominal"}, "text": {"field": "label"}}}
 ]},
 {"width": 132, "height": 1, "data": {"values": []}, "mark": "point"},
 {"width": 252, "height": 81, "layer": [
  {"data": {"name": "risk"}, "transform": [{"filter": "datum.p == 'OS1' && datum.t == 0"}], "mark": {"type": "rule", "strokeWidth": 2},
   "encoding": {"x": {"datum": -3.87, "type": "quantitative", "scale": {"domain": [-1.067, 32.53], "nice": false, "zero": false}, "axis": null}, "x2": {"datum": -2.13},
    "y": {"field": "g", "type": "nominal", "scale": {"type": "point", "domain": ["At Risk","gap","NMC","AHCT","Other","RD-WBRT","SD-WBRT"], "range": [13, 58], "padding": 0}, "axis": null},
    "color": {"field": "g", "type": "nominal", "scale": {"domain": ["NMC","AHCT","Other","RD-WBRT","SD-WBRT"], "range": ["#F8766D","#A3A500","#00BF7D","#00B0F6","#E76BF3"]}, "title": "\u00a0", "legend": {"symbolType": "M-0.9,0H4.5M1.8,-0.9V0.9"}}}},
  {"data": {"name": "risk"}, "transform": [{"filter": "datum.p == 'OS1'"}], "mark": {"type": "text", "fontSize": 7.5, "color": "#555"},
   "encoding": {"x": {"field": "t", "type": "quantitative", "scale": {"domain": [-1.067, 32.53], "nice": false, "zero": false}, "axis": null},
    "y": {"field": "g", "type": "nominal", "scale": {"type": "point", "domain": ["At Risk","gap","NMC","AHCT","Other","RD-WBRT","SD-WBRT"], "range": [13, 58], "padding": 0}, "axis": null},
    "text": {"field": "n"}}},
  {"data": {"values": [{"label": "At Risk"}]}, "mark": {"type": "text", "fontSize": 9, "color": "#666"},
   "encoding": {"x": {"datum": 0, "type": "quantitative"}, "y": {"datum": "At Risk", "type": "nominal"}, "text": {"field": "label"}}}
 ]},

 {"width": 110, "height": 214, "data": {"values": [{"label": "RPA 2"}]}, "mark": {"type": "text", "fontSize": 26.5, "color": "#111"}, "encoding": {"text": {"field": "label"}}},
 {"width": 86, "height": 1, "data": {"values": []}, "mark": "point"},
 {"width": 271, "height": 201, "layer": [
  {"data": {"name": "km"}, "transform": [{"filter": "datum.p == 'PFS2'"}], "mark": {"type": "line", "interpolate": "step-after", "strokeWidth": 1.2},
   "encoding": {"x": {"field": "t", "type": "quantitative", "scale": {"domain": [-1.06, 20.57], "nice": false, "zero": false}, "axis": {"values": [0,5,10,15,20], "title": "Years from Consolidation", "tickSize": 3, "labelPadding": -1, "titlePadding": 1}},
    "y": {"field": "s", "type": "quantitative", "scale": {"domain": [-0.0495, 1.057], "nice": false, "zero": false}, "axis": {"values": [0,0.25,0.5,0.75,1], "format": ".2f", "title": "Probability"}},
    "color": {"field": "g", "type": "nominal", "scale": {"domain": ["NMC","AHCT","Other","RD-WBRT","SD-WBRT"], "range": ["#F8766D","#A3A500","#00BF7D","#00B0F6","#E76BF3"]}, "title": "\u00a0", "legend": {"symbolType": "M-0.9,0H4.5M1.8,-0.9V0.9"}}}},
  {"data": {"name": "km"}, "transform": [{"filter": "datum.p == 'PFS2' && datum.c == 1"}], "mark": {"type": "point", "shape": "M-1,0H1M0,-1V1", "filled": false, "size": 40, "strokeWidth": 1.1, "opacity": 1},
   "encoding": {"x": {"field": "t", "type": "quantitative", "scale": {"domain": [-1.06, 20.57], "nice": false, "zero": false}},
    "y": {"field": "s", "type": "quantitative", "scale": {"domain": [-0.0495, 1.057], "nice": false, "zero": false}},
    "color": {"field": "g", "type": "nominal", "scale": {"domain": ["NMC","AHCT","Other","RD-WBRT","SD-WBRT"], "range": ["#F8766D","#A3A500","#00BF7D","#00B0F6","#E76BF3"]}, "title": "\u00a0", "legend": {"symbolType": "M-0.9,0H4.5M1.8,-0.9V0.9"}}}},
  {"data": {"values": [{"label": "p<0.001"}]}, "mark": {"type": "text", "fontSize": 16, "color": "#111"},
   "encoding": {"x": {"datum": 18.17, "type": "quantitative"}, "y": {"datum": 0.925, "type": "quantitative"}, "text": {"field": "label"}}}
 ]},
 {"width": 132, "height": 1, "data": {"values": []}, "mark": "point"},
 {"width": 253, "height": 203, "layer": [
  {"data": {"name": "km"}, "transform": [{"filter": "datum.p == 'OS2'"}], "mark": {"type": "line", "interpolate": "step-after", "strokeWidth": 1.2},
   "encoding": {"x": {"field": "t", "type": "quantitative", "scale": {"domain": [-0.676, 20.71], "nice": false, "zero": false}, "axis": {"values": [0,5,10,15,20], "title": "Years from Consolidation", "labelPadding": 2, "titlePadding": 0}},
    "y": {"field": "s", "type": "quantitative", "scale": {"domain": [-0.04, 1.126], "nice": false, "zero": false}, "axis": {"values": [0,0.25,0.5,0.75,1], "format": ".2f", "title": "Probability"}},
    "color": {"field": "g", "type": "nominal", "scale": {"domain": ["NMC","AHCT","Other","RD-WBRT","SD-WBRT"], "range": ["#F8766D","#A3A500","#00BF7D","#00B0F6","#E76BF3"]}, "title": "\u00a0", "legend": {"symbolType": "M-0.9,0H4.5M1.8,-0.9V0.9"}}}},
  {"data": {"name": "km"}, "transform": [{"filter": "datum.p == 'OS2' && datum.c == 1"}], "mark": {"type": "point", "shape": "M-1,0H1M0,-1V1", "filled": false, "size": 40, "strokeWidth": 1.1, "opacity": 1},
   "encoding": {"x": {"field": "t", "type": "quantitative", "scale": {"domain": [-0.676, 20.71], "nice": false, "zero": false}},
    "y": {"field": "s", "type": "quantitative", "scale": {"domain": [-0.04, 1.126], "nice": false, "zero": false}},
    "color": {"field": "g", "type": "nominal", "scale": {"domain": ["NMC","AHCT","Other","RD-WBRT","SD-WBRT"], "range": ["#F8766D","#A3A500","#00BF7D","#00B0F6","#E76BF3"]}, "title": "\u00a0", "legend": {"symbolType": "M-0.9,0H4.5M1.8,-0.9V0.9"}}}},
  {"data": {"values": [{"label": "p<0.001"}]}, "mark": {"type": "text", "fontSize": 16, "color": "#111"},
   "encoding": {"x": {"datum": 18.1, "type": "quantitative"}, "y": {"datum": 0.962, "type": "quantitative"}, "text": {"field": "label"}}}
 ]},

 {"width": 110, "height": 1, "data": {"values": []}, "mark": "point"},
 {"width": 86, "height": 1, "data": {"values": []}, "mark": "point"},
 {"width": 271, "height": 93, "layer": [
  {"data": {"name": "risk"}, "transform": [{"filter": "datum.p == 'PFS2' && datum.t == 0"}], "mark": {"type": "rule", "strokeWidth": 2},
   "encoding": {"x": {"datum": -2.47, "type": "quantitative", "scale": {"domain": [-1.06, 20.57], "nice": false, "zero": false}, "axis": null}, "x2": {"datum": -1.51},
    "y": {"field": "g", "type": "nominal", "scale": {"type": "point", "domain": ["At Risk","gap","NMC","AHCT","Other","RD-WBRT","SD-WBRT"], "range": [18, 63], "padding": 0}, "axis": null},
    "color": {"field": "g", "type": "nominal", "scale": {"domain": ["NMC","AHCT","Other","RD-WBRT","SD-WBRT"], "range": ["#F8766D","#A3A500","#00BF7D","#00B0F6","#E76BF3"]}, "title": "\u00a0", "legend": {"symbolType": "M-0.9,0H4.5M1.8,-0.9V0.9"}}}},
  {"data": {"name": "risk"}, "transform": [{"filter": "datum.p == 'PFS2'"}], "mark": {"type": "text", "fontSize": 7.5, "color": "#555"},
   "encoding": {"x": {"field": "t", "type": "quantitative", "scale": {"domain": [-1.06, 20.57], "nice": false, "zero": false}, "axis": null},
    "y": {"field": "g", "type": "nominal", "scale": {"type": "point", "domain": ["At Risk","gap","NMC","AHCT","Other","RD-WBRT","SD-WBRT"], "range": [18, 63], "padding": 0}, "axis": null},
    "text": {"field": "n"}}},
  {"data": {"values": [{"label": "At Risk"}]}, "mark": {"type": "text", "fontSize": 9, "color": "#666"},
   "encoding": {"x": {"datum": 0, "type": "quantitative"}, "y": {"datum": "At Risk", "type": "nominal"}, "text": {"field": "label"}}}
 ]},
 {"width": 132, "height": 1, "data": {"values": []}, "mark": "point"},
 {"width": 253, "height": 93, "layer": [
  {"data": {"name": "risk"}, "transform": [{"filter": "datum.p == 'OS2' && datum.t == 0"}], "mark": {"type": "rule", "strokeWidth": 2},
   "encoding": {"x": {"datum": -2.45, "type": "quantitative", "scale": {"domain": [-0.676, 20.71], "nice": false, "zero": false}, "axis": null}, "x2": {"datum": -1.35},
    "y": {"field": "g", "type": "nominal", "scale": {"type": "point", "domain": ["At Risk","gap","NMC","AHCT","Other","RD-WBRT","SD-WBRT"], "range": [17, 63], "padding": 0}, "axis": null},
    "color": {"field": "g", "type": "nominal", "scale": {"domain": ["NMC","AHCT","Other","RD-WBRT","SD-WBRT"], "range": ["#F8766D","#A3A500","#00BF7D","#00B0F6","#E76BF3"]}, "title": "\u00a0", "legend": {"symbolType": "M-0.9,0H4.5M1.8,-0.9V0.9"}}}},
  {"data": {"name": "risk"}, "transform": [{"filter": "datum.p == 'OS2'"}], "mark": {"type": "text", "fontSize": 7.5, "color": "#555"},
   "encoding": {"x": {"field": "t", "type": "quantitative", "scale": {"domain": [-0.676, 20.71], "nice": false, "zero": false}, "axis": null},
    "y": {"field": "g", "type": "nominal", "scale": {"type": "point", "domain": ["At Risk","gap","NMC","AHCT","Other","RD-WBRT","SD-WBRT"], "range": [17, 63], "padding": 0}, "axis": null},
    "text": {"field": "n"}}},
  {"data": {"values": [{"label": "At Risk"}]}, "mark": {"type": "text", "fontSize": 9, "color": "#666"},
   "encoding": {"x": {"datum": 0, "type": "quantitative"}, "y": {"datum": "At Risk", "type": "nominal"}, "text": {"field": "label"}}}
 ]},

 {"width": 110, "height": 214, "data": {"values": [{"label": "RPA 3"}]}, "mark": {"type": "text", "fontSize": 26.5, "color": "#111"}, "encoding": {"text": {"field": "label"}}},
 {"width": 86, "height": 1, "data": {"values": []}, "mark": "point"},
 {"width": 280, "height": 203, "layer": [
  {"data": {"name": "km"}, "transform": [{"filter": "datum.p == 'PFS3'"}], "mark": {"type": "line", "interpolate": "step-after", "strokeWidth": 1.2},
   "encoding": {"x": {"field": "t", "type": "quantitative", "scale": {"domain": [-0.913, 17.35], "nice": false, "zero": false}, "axis": {"values": [0,5,10,15], "title": "Years from Consolidation", "labelPadding": 5, "titlePadding": 0}},
    "y": {"field": "s", "type": "quantitative", "scale": {"domain": [-0.056, 1.055], "nice": false, "zero": false}, "axis": {"values": [0,0.25,0.5,0.75,1], "format": ".2f", "title": "Probability", "titleFontSize": 22, "titlePadding": 4}},
    "color": {"field": "g", "type": "nominal", "scale": {"domain": ["NMC","AHCT","Other","RD-WBRT","SD-WBRT"], "range": ["#F8766D","#A3A500","#00BF7D","#00B0F6","#E76BF3"]}, "title": "\u00a0", "legend": {"symbolType": "M-0.9,0H4.5M1.8,-0.9V0.9"}}}},
  {"data": {"name": "km"}, "transform": [{"filter": "datum.p == 'PFS3' && datum.c == 1"}], "mark": {"type": "point", "shape": "M-1,0H1M0,-1V1", "filled": false, "size": 40, "strokeWidth": 1.1, "opacity": 1},
   "encoding": {"x": {"field": "t", "type": "quantitative", "scale": {"domain": [-0.913, 17.35], "nice": false, "zero": false}},
    "y": {"field": "s", "type": "quantitative", "scale": {"domain": [-0.056, 1.055], "nice": false, "zero": false}},
    "color": {"field": "g", "type": "nominal", "scale": {"domain": ["NMC","AHCT","Other","RD-WBRT","SD-WBRT"], "range": ["#F8766D","#A3A500","#00BF7D","#00B0F6","#E76BF3"]}, "title": "\u00a0", "legend": {"symbolType": "M-0.9,0H4.5M1.8,-0.9V0.9"}}}},
  {"data": {"values": [{"label": "p<0.001"}]}, "mark": {"type": "text", "fontSize": 16, "color": "#111"},
   "encoding": {"x": {"datum": 15.1, "type": "quantitative"}, "y": {"datum": 0.955, "type": "quantitative"}, "text": {"field": "label"}}}
 ]},
 {"width": 132, "height": 1, "data": {"values": []}, "mark": "point"},
 {"width": 277, "height": 205, "layer": [
  {"data": {"name": "km"}, "transform": [{"filter": "datum.p == 'OS3'"}], "mark": {"type": "line", "interpolate": "step-after", "strokeWidth": 1.2},
   "encoding": {"x": {"field": "t", "type": "quantitative", "scale": {"domain": [-1.256, 17.35], "nice": false, "zero": false}, "axis": {"values": [0,5,10,15], "title": "Years from Consolidation", "labelPadding": 4, "titlePadding": 0}},
    "y": {"field": "s", "type": "quantitative", "scale": {"domain": [-0.031, 1.081], "nice": false, "zero": false}, "axis": {"values": [0,0.25,0.5,0.75,1], "format": ".2f", "title": "Probability", "titleFontSize": 22, "titlePadding": 4}},
    "color": {"field": "g", "type": "nominal", "scale": {"domain": ["NMC","AHCT","Other","RD-WBRT","SD-WBRT"], "range": ["#F8766D","#A3A500","#00BF7D","#00B0F6","#E76BF3"]}, "title": "\u00a0", "legend": {"symbolType": "M-0.9,0H4.5M1.8,-0.9V0.9"}}}},
  {"data": {"name": "km"}, "transform": [{"filter": "datum.p == 'OS3' && datum.c == 1"}], "mark": {"type": "point", "shape": "M-1,0H1M0,-1V1", "filled": false, "size": 40, "strokeWidth": 1.1, "opacity": 1},
   "encoding": {"x": {"field": "t", "type": "quantitative", "scale": {"domain": [-1.256, 17.35], "nice": false, "zero": false}},
    "y": {"field": "s", "type": "quantitative", "scale": {"domain": [-0.031, 1.081], "nice": false, "zero": false}},
    "color": {"field": "g", "type": "nominal", "scale": {"domain": ["NMC","AHCT","Other","RD-WBRT","SD-WBRT"], "range": ["#F8766D","#A3A500","#00BF7D","#00B0F6","#E76BF3"]}, "title": "\u00a0", "legend": {"symbolType": "M-0.9,0H4.5M1.8,-0.9V0.9"}}}},
  {"data": {"values": [{"label": "p=0.013"}]}, "mark": {"type": "text", "fontSize": 16, "color": "#111"},
   "encoding": {"x": {"datum": 14.55, "type": "quantitative"}, "y": {"datum": 0.955, "type": "quantitative"}, "text": {"field": "label"}}}
 ]},

 {"width": 110, "height": 1, "data": {"values": []}, "mark": "point"},
 {"width": 86, "height": 1, "data": {"values": []}, "mark": "point"},
 {"width": 280, "height": 81, "layer": [
  {"data": {"name": "risk"}, "transform": [{"filter": "datum.p == 'PFS3' && datum.t == 0"}], "mark": {"type": "rule", "strokeWidth": 2},
   "encoding": {"x": {"datum": -1.76, "type": "quantitative", "scale": {"domain": [-0.913, 17.35], "nice": false, "zero": false}, "axis": null}, "x2": {"datum": -1.1},
    "y": {"field": "g", "type": "nominal", "scale": {"type": "point", "domain": ["At Risk","gap","NMC","AHCT","Other","RD-WBRT","SD-WBRT"], "range": [24, 81], "padding": 0}, "axis": null},
    "color": {"field": "g", "type": "nominal", "scale": {"domain": ["NMC","AHCT","Other","RD-WBRT","SD-WBRT"], "range": ["#F8766D","#A3A500","#00BF7D","#00B0F6","#E76BF3"]}, "title": "\u00a0", "legend": {"symbolType": "M-0.9,0H4.5M1.8,-0.9V0.9"}}}},
  {"data": {"name": "risk"}, "transform": [{"filter": "datum.p == 'PFS3'"}], "mark": {"type": "text", "fontSize": 8.5, "color": "#555"},
   "encoding": {"x": {"field": "t", "type": "quantitative", "scale": {"domain": [-0.913, 17.35], "nice": false, "zero": false}, "axis": null},
    "y": {"field": "g", "type": "nominal", "scale": {"type": "point", "domain": ["At Risk","gap","NMC","AHCT","Other","RD-WBRT","SD-WBRT"], "range": [24, 81], "padding": 0}, "axis": null},
    "text": {"field": "n"}}},
  {"data": {"values": [{"label": "At Risk"}]}, "mark": {"type": "text", "fontSize": 9, "color": "#666"},
   "encoding": {"x": {"datum": 0, "type": "quantitative"}, "y": {"datum": "At Risk", "type": "nominal"}, "text": {"field": "label"}}}
 ]},
 {"width": 132, "height": 1, "data": {"values": []}, "mark": "point"},
 {"width": 277, "height": 81, "layer": [
  {"data": {"name": "risk"}, "transform": [{"filter": "datum.p == 'OS3' && datum.t == 0"}], "mark": {"type": "rule", "strokeWidth": 2},
   "encoding": {"x": {"datum": -2.29, "type": "quantitative", "scale": {"domain": [-1.256, 17.35], "nice": false, "zero": false}, "axis": null}, "x2": {"datum": -1.28},
    "y": {"field": "g", "type": "nominal", "scale": {"type": "point", "domain": ["At Risk","gap","NMC","AHCT","Other","RD-WBRT","SD-WBRT"], "range": [26, 79], "padding": 0}, "axis": null},
    "color": {"field": "g", "type": "nominal", "scale": {"domain": ["NMC","AHCT","Other","RD-WBRT","SD-WBRT"], "range": ["#F8766D","#A3A500","#00BF7D","#00B0F6","#E76BF3"]}, "title": "\u00a0", "legend": {"symbolType": "M-0.9,0H4.5M1.8,-0.9V0.9"}}}},
  {"data": {"name": "risk"}, "transform": [{"filter": "datum.p == 'OS3'"}], "mark": {"type": "text", "fontSize": 8.5, "color": "#555"},
   "encoding": {"x": {"field": "t", "type": "quantitative", "scale": {"domain": [-1.256, 17.35], "nice": false, "zero": false}, "axis": null},
    "y": {"field": "g", "type": "nominal", "scale": {"type": "point", "domain": ["At Risk","gap","NMC","AHCT","Other","RD-WBRT","SD-WBRT"], "range": [26, 79], "padding": 0}, "axis": null},
    "text": {"field": "n"}}},
  {"data": {"values": [{"label": "At Risk"}]}, "mark": {"type": "text", "fontSize": 9, "color": "#666"},
   "encoding": {"x": {"datum": 0, "type": "quantitative"}, "y": {"datum": "At Risk", "type": "nominal"}, "text": {"field": "label"}}}
 ]}
],
"config": {
 "font": "Liberation Sans",
 "view": {"stroke": null},
 "text": {"font": "Liberation Sans"},
 "axis": {"grid": false, "domainColor": "#444", "domainWidth": 1.1, "tickColor": "#444", "tickSize": 4, "labelFont": "Liberation Sans", "labelColor": "#333", "labelFontSize": 17, "titleFont": "Liberation Sans", "titleFontWeight": "normal", "titleColor": "#111"},
 "axisX": {"titleFontSize": 12.5, "labelFontSize": 16, "labelPadding": 1, "titlePadding": 1},
 "axisY": {"titleFontSize": 18, "labelFontSize": 17, "labelPadding": 2, "titlePadding": 10},
 "legend": {"orient": "none", "legendX": 937, "legendY": 393, "strokeColor": "#000", "strokeWidth": 1.3, "padding": 7.5, "labelFont": "Liberation Sans", "labelFontSize": 15, "labelColor": "#111", "symbolSize": 100, "symbolStrokeWidth": 1.5, "rowPadding": 8.5, "labelOffset": 26.5, "titleOrient": "right", "titlePadding": 8, "titleFontSize": 15}
}
}
